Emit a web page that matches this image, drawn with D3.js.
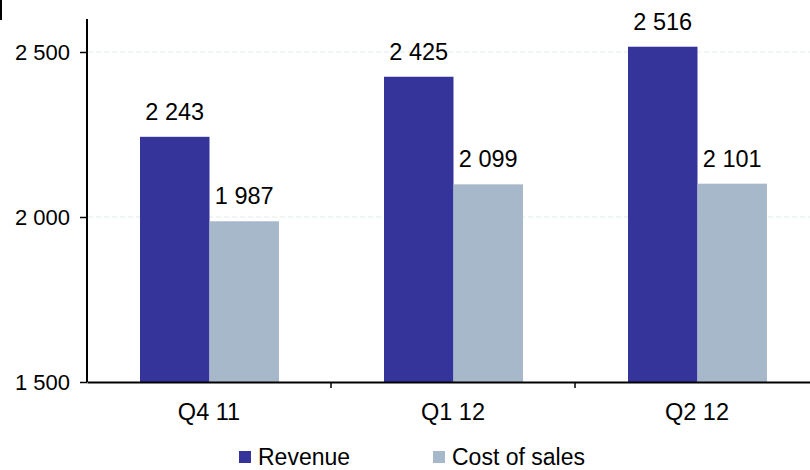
<!DOCTYPE html>
<html lang="en">
<head>
<meta charset="UTF-8">
<title>Revenue vs cost of sales</title>
<script src="https://cdn.jsdelivr.net/npm/d3@7"></script>
<style>
  body{margin:0;background:#fff;}
  svg{display:block;font-family:"Liberation Sans",Arial,sans-serif;}
</style>
</head>
<body>
<svg width="810" height="470"></svg>
<script>
// data
const quarters = ["Q4 11", "Q1 12", "Q2 12"];
const seriesNames = ["Revenue", "Cost of sales"];
const revenue = [2243, 2425, 2516];
const costOfSales = [1987, 2099, 2101];
const yTicks = [1500, 2000, 2500];
const colors = ["#35349a", "#a6b8ca"];

const svg = d3.select("svg");
const fmt = v => d3.format(",")(v).replace(/,/g, " ");
const FONT = "Liberation Sans, Arial, sans-serif";

// scales
const y = d3.scaleLinear().domain([1500, 2600]).range([382, 19]);
const x0 = d3.scaleBand().domain(quarters).range([87, 819]).paddingInner(0).paddingOuter(0);
const x1 = d3.scaleBand().domain(seriesNames).range([53, 192]);

// faint dashed gridlines
svg.append("g")
  .selectAll("line")
  .data(yTicks.slice(1))
  .join("line")
  .attr("x1", 88).attr("x2", 810)
  .attr("y1", d => y(d)).attr("y2", d => y(d))
  .attr("stroke", "#e1ebeb")
  .attr("stroke-dasharray", "5,3");

// bars
const rows = quarters.map((q, i) => ({q, values: [revenue[i], costOfSales[i]]}));
const groups = svg.append("g").selectAll("g")
  .data(rows).join("g")
  .attr("transform", d => `translate(${x0(d.q)},0)`);

groups.selectAll("rect")
  .data(d => d.values.map((v, k) => ({name: seriesNames[k], v, k})))
  .join("rect")
  .attr("x", d => x1(d.name))
  .attr("width", x1.bandwidth())
  .attr("y", d => y(d.v))
  .attr("height", d => y(1500) - y(d.v))
  .attr("fill", d => colors[d.k]);

groups.selectAll("text")
  .data(d => d.values.map((v, k) => ({name: seriesNames[k], v, k})))
  .join("text")
  .attr("x", d => x1(d.name) + x1.bandwidth() / 2)
  .attr("y", d => y(d.v) - 17)
  .attr("text-anchor", "middle")
  .attr("font-size", 23.5)
  .attr("fill", "#000")
  .text(d => fmt(d.v));

// y axis
const yAxis = svg.append("g")
  .attr("transform", "translate(87,0)")
  .call(d3.axisLeft(y).tickValues(yTicks).tickSize(7).tickSizeOuter(0).tickFormat(fmt));
yAxis.select(".domain").attr("stroke", "#000").attr("stroke-width", 2)
  .attr("d", `M0,${y(2600)}V${y(1500)}`);
yAxis.selectAll(".tick line").attr("stroke", "#000").attr("stroke-width", 1.5);
yAxis.selectAll(".tick text").attr("font-size", 22).attr("fill", "#000")
  .attr("font-family", FONT).attr("x", -17);

// x axis
const xAxis = svg.append("g")
  .attr("transform", `translate(0,${y(1500)})`)
  .call(d3.axisBottom(x0).tickSize(0).tickSizeOuter(0));
xAxis.select(".domain").attr("stroke", "#000").attr("stroke-width", 2);
xAxis.selectAll(".tick text").attr("font-size", 23.5).attr("fill", "#000")
  .attr("font-family", FONT).attr("y", 38).attr("dy", null);
// category boundary ticks
svg.append("g").selectAll("line")
  .data(quarters.slice(1))
  .join("line")
  .attr("x1", d => x0(d)).attr("x2", d => x0(d))
  .attr("y1", y(1500)).attr("y2", y(1500) + 6)
  .attr("stroke", "#000").attr("stroke-width", 1.5);

// stray mark top-left
svg.append("line").attr("x1", 1).attr("x2", 1).attr("y1", 0).attr("y2", 20)
  .attr("stroke", "#000").attr("stroke-width", 2);

// legend
const legendX = [239, 433];
const legend = svg.append("g").selectAll("g")
  .data(seriesNames).join("g")
  .attr("transform", (d, i) => `translate(${legendX[i]},451)`);
legend.append("rect").attr("width", 12).attr("height", 12).attr("fill", (d, i) => colors[i]);
legend.append("text").attr("x", 19).attr("y", 14)
  .attr("font-size", 23).attr("fill", "#000").text(d => d);
</script>
</body>
</html>
